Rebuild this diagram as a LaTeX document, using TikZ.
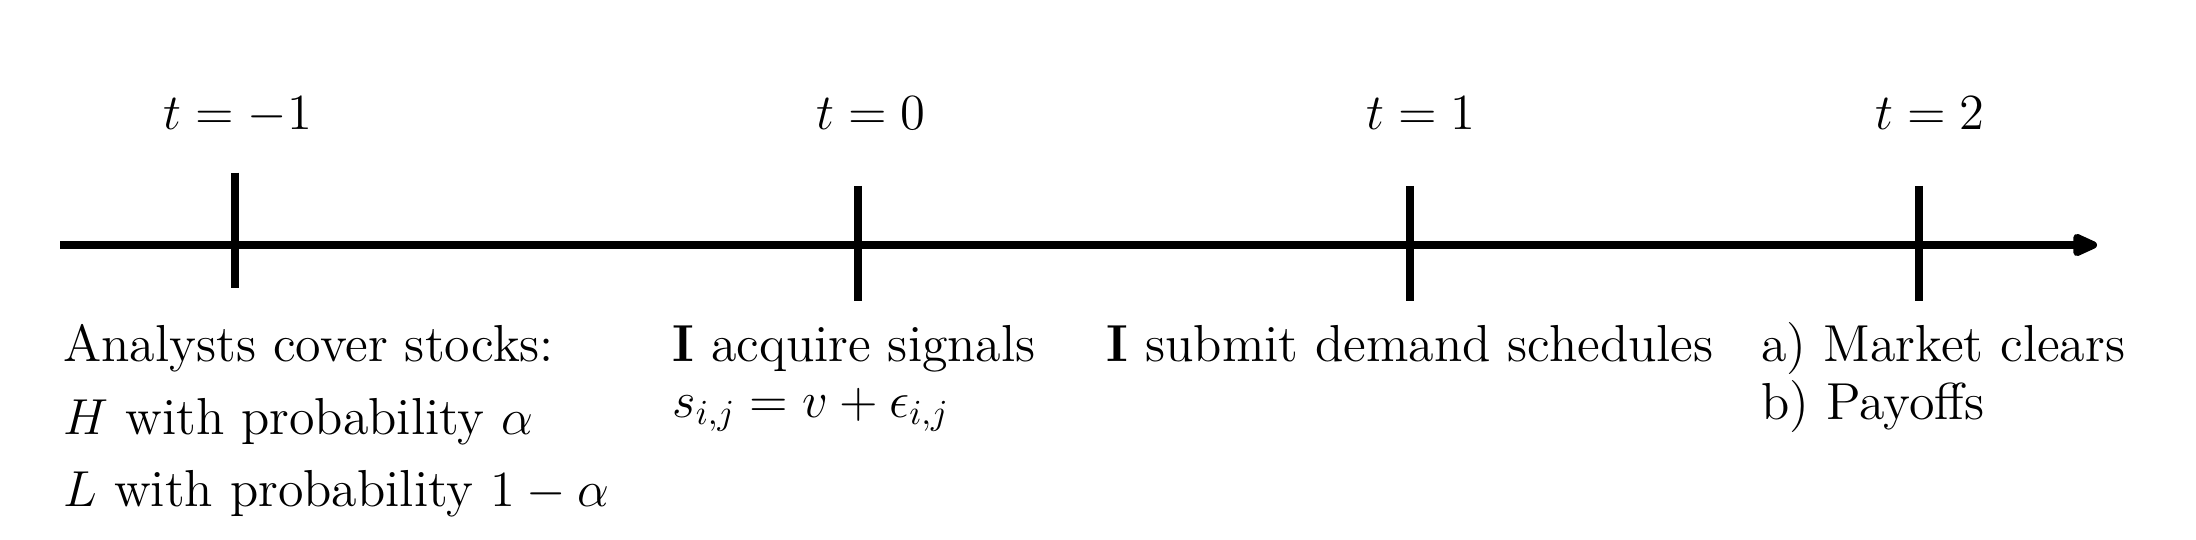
\documentclass[tikz,border=0pt]{standalone}
\usetikzlibrary{arrows.meta}
\begin{document}
\begin{tikzpicture}[
  x=1cm,y=1cm,
  axisline/.style={line width=2.1pt,-{Triangle[length=3.0mm,width=2.4mm,round]}},
  tickline/.style={line width=2.1pt},
  lbl/.style={inner sep=0pt,anchor=base west,font=\fontsize{14.8}{17.5}\selectfont},
  tlbl/.style={inner sep=0pt,anchor=base,font=\fontsize{14.8}{17.5}\selectfont}
]
\useasboundingbox (0,0) rectangle (21.96,5.40);
% axis
\coordinate (a0) at (0.60,2.95);
\coordinate (a1) at (20.97,2.95);
\draw[axisline] (a0) -- (a1);
% ticks
\coordinate (m1t) at (2.35,3.673); \coordinate (m1b) at (2.35,2.52);
\coordinate (z0t) at (8.58,3.54);  \coordinate (z0b) at (8.58,2.39);
\coordinate (o1t) at (14.10,3.54); \coordinate (o1b) at (14.10,2.39);
\coordinate (w2t) at (19.19,3.54); \coordinate (w2b) at (19.19,2.39);
\draw[tickline] (m1t) -- (m1b);
\draw[tickline] (z0t) -- (z0b);
\draw[tickline] (o1t) -- (o1b);
\draw[tickline] (w2t) -- (w2b);
% time labels
\node[tlbl] (tm1) at (2.375,4.107) {$t=-1$};
\node[tlbl] (t0) at (8.71,4.107) {$t=0$};
\node[tlbl] (t1) at (14.21,4.107) {$t=1$};
\node[tlbl] (t2) at (19.30,4.107) {$t=2$};
% descriptions
\node[lbl] (an1) at (0.627,1.785) {Analysts cover stocks:};
\node[lbl] (an2) at (0.627,1.05) {$H$ with probability $\alpha$};
\node[lbl] (an3) at (0.627,0.333) {$L$ with probability $1-\alpha$};
\node[lbl] (ac1) at (6.717,1.785) {\textbf{I} acquire signals};
\node[lbl] (ac2) at (6.717,1.227) {$s_{i,j}=v+\epsilon_{i,j}$};
\node[lbl] (sd1) at (11.06,1.785) {\textbf{I} submit demand schedules};
\node[lbl] (mc1) at (17.607,1.785) {a) Market clears};
\node[lbl] (mc2) at (17.607,1.20) {b) Payoffs};
\end{tikzpicture}
\end{document}
